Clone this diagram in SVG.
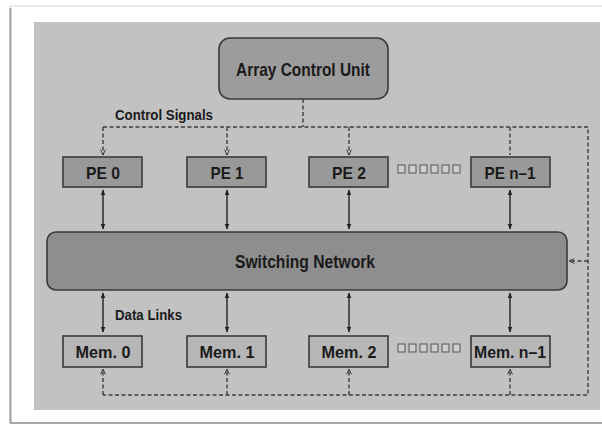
<svg xmlns="http://www.w3.org/2000/svg" width="602" height="426" viewBox="0 0 602 426">
<defs>
<marker id="arr" viewBox="0 0 10 10" refX="9" refY="5" markerWidth="6" markerHeight="7" orient="auto-start-reverse" markerUnits="userSpaceOnUse">
<path d="M0,1 L10,5 L0,9 Z" fill="#222"/>
</marker>
<marker id="sarr" viewBox="0 0 10 10" refX="9" refY="5" markerWidth="7" markerHeight="6" orient="auto" markerUnits="userSpaceOnUse">
<path d="M0,1 L9,5 L0,9" fill="none" stroke="#333" stroke-width="1.6"/>
</marker>
</defs>
<style>
text{font-family:"Liberation Sans",Arial,sans-serif;fill:#1a1a1a;font-weight:bold;}
.box{stroke:#3a3a3a;stroke-width:1.6;}
.pe{fill:#999999;}
.mem{fill:#b6b6b6;}
.dash{fill:none;stroke:#3e3e3e;stroke-width:1.4;stroke-dasharray:4 2.5;}
.solid{fill:none;stroke:#222;stroke-width:1.4;}
.dot{fill:#cfcfcf;stroke:#555;stroke-width:1;}
.lbl{font-size:17px;}
.cap{font-size:15px;}
.big{font-size:19px;}
</style>
<rect x="0" y="0" width="602" height="426" fill="#ffffff"/>
<rect x="10" y="6" width="600" height="417" fill="#ffffff" stroke="#d6d6d6" stroke-width="1"/>
<line x1="10.5" y1="8" x2="10.5" y2="423" stroke="#a0a0a0" stroke-width="2"/>
<line x1="10" y1="423" x2="602" y2="423" stroke="#a8a8a8" stroke-width="2"/>
<rect x="34" y="22" width="566" height="388" fill="#c2c2c2"/>
<g id="connectors">
<path class="dash" d="M103,127 H588 V395 H103"/>
<path class="dash" d="M303,99 V127"/>
<path class="dash" d="M103,127 V155" marker-end="url(#sarr)"/>
<path class="dash" d="M227,127 V155" marker-end="url(#sarr)"/>
<path class="dash" d="M349,127 V155" marker-end="url(#sarr)"/>
<path class="dash" d="M510,127 V155"/>
<path class="dash" d="M103,395 V369" marker-end="url(#sarr)"/>
<path class="dash" d="M227,395 V369" marker-end="url(#sarr)"/>
<path class="dash" d="M349,395 V369" marker-end="url(#sarr)"/>
<path class="dash" d="M510,395 V369" marker-end="url(#sarr)"/>
<path class="dash" d="M588,261 H569" marker-end="url(#sarr)"/>
<path class="solid" d="M103,190 V229" marker-start="url(#arr)" marker-end="url(#arr)"/>
<path class="solid" d="M227,190 V229" marker-start="url(#arr)" marker-end="url(#arr)"/>
<path class="solid" d="M349,190 V229" marker-start="url(#arr)" marker-end="url(#arr)"/>
<path class="solid" d="M510,190 V229" marker-start="url(#arr)" marker-end="url(#arr)"/>
<path class="solid" d="M103,293 V332" marker-start="url(#arr)" marker-end="url(#arr)"/>
<path class="solid" d="M227,293 V332" marker-start="url(#arr)" marker-end="url(#arr)"/>
<path class="solid" d="M349,293 V332" marker-start="url(#arr)" marker-end="url(#arr)"/>
<path class="solid" d="M510,293 V332" marker-start="url(#arr)" marker-end="url(#arr)"/>
</g>
<g id="acu">
<rect class="box" x="219" y="38" width="169" height="61" rx="11" fill="#9c9c9c"/>
<text class="big" x="303" y="76" text-anchor="middle" textLength="134" lengthAdjust="spacingAndGlyphs">Array Control Unit</text>
</g>
<g id="control-signals-label">
<text class="cap" x="115" y="120" textLength="98" lengthAdjust="spacingAndGlyphs">Control Signals</text>
</g>
<g id="pe0">
<rect class="box pe" x="63" y="157" width="79" height="30"/>
<text class="lbl" x="103" y="179" text-anchor="middle" textLength="34" lengthAdjust="spacingAndGlyphs">PE 0</text>
</g>
<g id="pe1">
<rect class="box pe" x="187" y="157" width="79" height="30"/>
<text class="lbl" x="227" y="179" text-anchor="middle" textLength="33" lengthAdjust="spacingAndGlyphs">PE 1</text>
</g>
<g id="pe2">
<rect class="box pe" x="309" y="157" width="79" height="30"/>
<text class="lbl" x="349" y="179" text-anchor="middle" textLength="34" lengthAdjust="spacingAndGlyphs">PE 2</text>
</g>
<g id="pe-dots">
<rect class="dot" x="398" y="165" width="7" height="8"/>
<rect class="dot" x="409" y="165" width="7" height="8"/>
<rect class="dot" x="420" y="165" width="7" height="8"/>
<rect class="dot" x="431" y="165" width="7" height="8"/>
<rect class="dot" x="442" y="165" width="7" height="8"/>
<rect class="dot" x="453" y="165" width="7" height="8"/>
</g>
<g id="pen1">
<rect class="box pe" x="471" y="157" width="79" height="30"/>
<text class="lbl" x="510" y="179" text-anchor="middle" textLength="51" lengthAdjust="spacingAndGlyphs">PE n–1</text>
</g>
<g id="switching-network">
<rect class="box" x="47" y="232" width="520" height="58" rx="9" fill="#8e8e8e"/>
<text class="big" x="305" y="268" text-anchor="middle" textLength="140" lengthAdjust="spacingAndGlyphs">Switching Network</text>
</g>
<g id="data-links-label">
<text class="cap" x="115" y="320" textLength="67" lengthAdjust="spacingAndGlyphs">Data Links</text>
</g>
<g id="mem0">
<rect class="box mem" x="63" y="336" width="79" height="31"/>
<text class="lbl" x="103" y="358" text-anchor="middle" textLength="55" lengthAdjust="spacingAndGlyphs">Mem. 0</text>
</g>
<g id="mem1">
<rect class="box mem" x="187" y="336" width="79" height="31"/>
<text class="lbl" x="227" y="358" text-anchor="middle" textLength="55" lengthAdjust="spacingAndGlyphs">Mem. 1</text>
</g>
<g id="mem2">
<rect class="box mem" x="309" y="336" width="79" height="31"/>
<text class="lbl" x="349" y="358" text-anchor="middle" textLength="55" lengthAdjust="spacingAndGlyphs">Mem. 2</text>
</g>
<g id="mem-dots">
<rect class="dot" x="398" y="344" width="7" height="8"/>
<rect class="dot" x="409" y="344" width="7" height="8"/>
<rect class="dot" x="420" y="344" width="7" height="8"/>
<rect class="dot" x="431" y="344" width="7" height="8"/>
<rect class="dot" x="442" y="344" width="7" height="8"/>
<rect class="dot" x="453" y="344" width="7" height="8"/>
</g>
<g id="memn1">
<rect class="box mem" x="471" y="336" width="79" height="31"/>
<text class="lbl" x="510" y="358" text-anchor="middle" textLength="72" lengthAdjust="spacingAndGlyphs">Mem. n–1</text>
</g>
</svg>
